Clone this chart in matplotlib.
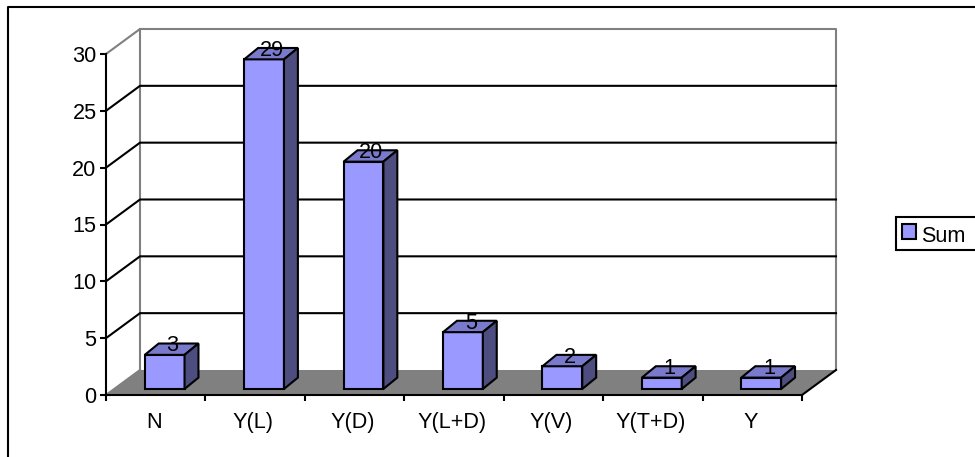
import matplotlib
matplotlib.use("Agg")
import matplotlib.pyplot as plt
from matplotlib.lines import Line2D
from matplotlib.patches import Patch

plt.rcParams['font.family'] = ['Liberation Sans', 'DejaVu Sans']

categories = ['N', 'Y(L)', 'Y(D)', 'Y(L+D)', 'Y(V)', 'Y(T+D)', 'Y']
values = [3, 29, 20, 5, 2, 1, 1]
y_ticks = [0, 5, 10, 15, 20, 25, 30]

W, H = 975, 457
LW = 1.5
FONT = 15.6

# depth of the fake 3d box, in data units
wall_dx = 0.342
wall_dy = 2.2
# depth of the bars and where they sit on the floor
bar_dx = 0.14
bar_dy = 1.0
bar_left = 0.39
bar_w = 0.4
bar_base = 0.53

fig = plt.figure(figsize=(W / 100, H / 100), dpi=100)
ax = fig.add_axes([106 / W, (H - 395) / H, 696 / W, 341 / H])
ax.patch.set_visible(False)
n = len(categories)
ax.set_xlim(0, n)
ax.set_ylim(0, 30)

# floor
ax.fill([0, n, n + wall_dx, wall_dx], [0, 0, wall_dy, wall_dy], color='#808080', lw=0, clip_on=False, zorder=1)

# back wall
ax.plot([0, wall_dx, n + wall_dx, n + wall_dx], [30, 30 + wall_dy, 30 + wall_dy, wall_dy],
        color='#808080', lw=LW, clip_on=False, zorder=2)
ax.plot([wall_dx, wall_dx], [wall_dy, 30 + wall_dy], color='#808080', lw=LW, clip_on=False, zorder=2)
ax.plot([0, wall_dx], [0, wall_dy], color='#808080', lw=LW, zorder=2)
ax.plot([n, n + wall_dx], [0, wall_dy], color='black', lw=LW, clip_on=False, zorder=2)

# gridlines on wall and side
for v in y_ticks[1:-1]:
    ax.plot([0, wall_dx, n + wall_dx], [v, v + wall_dy, v + wall_dy], color='black', lw=LW, clip_on=False, zorder=2)

# bars
for i, v in enumerate(values):
    x0 = i + bar_left
    x1 = x0 + bar_w
    y0 = bar_base
    y1 = bar_base + v
    ax.bar(x0, v, width=bar_w, bottom=y0, align='edge', color='#9999FF', edgecolor='black', linewidth=LW,
           clip_on=False, zorder=3)
    ax.fill([x0, x0 + bar_dx, x1 + bar_dx, x1], [y1, y1 + bar_dy, y1 + bar_dy, y1],
            facecolor='#7A7ACC', edgecolor='black', lw=LW, clip_on=False, zorder=3)
    ax.fill([x1, x1 + bar_dx, x1 + bar_dx, x1], [y0, y0 + bar_dy, y1 + bar_dy, y1],
            facecolor='#4D4D80', edgecolor='black', lw=LW, clip_on=False, zorder=3)
    ax.text(x0 + 0.28, y1 + 0.8, str(v), ha='center', va='center', fontsize=FONT, color='black',
            clip_on=False, zorder=4)

# axes
for s in ['top', 'right']:
    ax.spines[s].set_visible(False)
for s in ['left', 'bottom']:
    ax.spines[s].set_linewidth(LW)
    ax.spines[s].set_zorder(5)
ax.set_yticks(y_ticks)
ax.tick_params(axis='y', length=4.3, width=LW, pad=2.5, labelsize=FONT)
ax.set_xticks(range(n + 1))
ax.set_xticklabels([])
ax.tick_params(axis='x', which='major', length=4.3, width=LW)
ax.set_xticks([i + 0.48 for i in range(n)], minor=True)
ax.set_xticklabels(categories, minor=True, fontsize=FONT)
ax.tick_params(axis='x', which='minor', length=0, pad=12)

# legend runs off the right edge like the chart frame does
handle = Patch(facecolor='#9999FF', edgecolor='black', linewidth=LW, label='Sum')
leg = fig.legend(handles=[handle], loc='upper left', bbox_to_anchor=(896 / W, (H - 217) / H, 90 / W, 0),
                 mode='expand', borderaxespad=0, fontsize=FONT, fancybox=False, framealpha=1, edgecolor='black',
                 borderpad=0.28, handlelength=0.64, handleheight=0.64, handletextpad=0.26)
leg.get_frame().set_linewidth(LW)
# text sits a little lower than the marker in the original
leg.get_texts()[0].set_y(-3)

# outer chart frame, only left and top are inside the picture
fig.add_artist(Line2D([7.5 / W, 7.5 / W, 1], [0, (H - 6.5) / H, (H - 6.5) / H], color='black', lw=LW))

fig.savefig('out.png', dpi=100)
